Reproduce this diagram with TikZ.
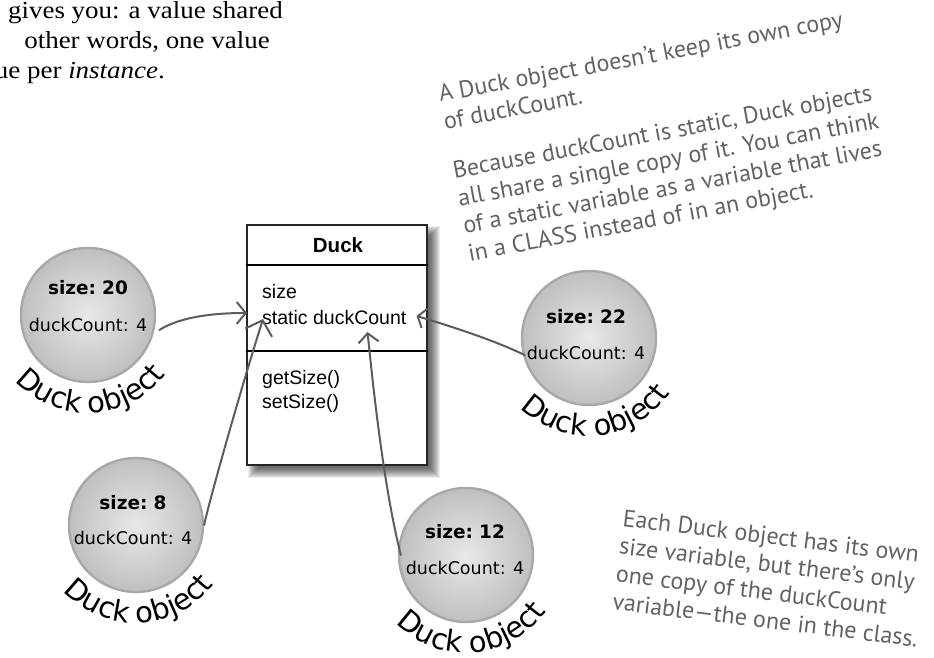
\documentclass[tikz,border=0pt]{standalone}
\usepackage{fontspec}
\setmainfont{Liberation Serif}
\newfontfamily\bookfont[FakeStretch=1.1]{Liberation Serif}
\newfontfamily\clsfont{Liberation Sans}
\newfontfamily\objfont{DejaVu Sans}
\newfontfamily\handfont{PT Sans}
\usetikzlibrary{arrows.meta,decorations.text,calc}
\pgfdeclarelayer{bg}
\pgfsetlayers{bg,main}
\definecolor{arrowgray}{HTML}{5C5C5C}
\definecolor{notegray}{HTML}{626262}
\newcommand{\labfont}{\objfont\fontsize{29}{29}\selectfont}
\begin{document}
\begin{tikzpicture}[x=1pt,y=1pt,
  book/.style={font=\bookfont\fontsize{24.5}{30}\selectfont, inner sep=0pt, anchor=base east},
  classbox/.style={draw=black!85, line width=1.2pt, fill=white, minimum width=180pt, minimum height=240pt, inner sep=0pt},
  sepline/.style={line width=2.2pt, black},
  field/.style={font=\clsfont\fontsize{19.5}{20}\selectfont, inner sep=0pt, anchor=west},
  duckobj/.style={circle, minimum size=134pt, inner sep=0pt, inner color=gray!18, outer color=gray!50, draw=gray!68, line width=2.4pt},
  sz/.style={font=\objfont\bfseries\fontsize{18.5}{18}\selectfont, inner sep=0pt},
  ct/.style={font=\objfont\fontsize{17.5}{17}\selectfont, inner sep=0pt},
  objlabel/.style={decorate, decoration={text along path, text align=center, text={|\labfont|Duck object}}},
  arr/.style={draw=arrowgray, line width=2pt, line cap=round},
  note/.style={font=\handfont\fontsize{24}{28}\selectfont, text=notegray, align=left, inner sep=0pt, anchor=north west}
]
\useasboundingbox (0,0) rectangle (934,658);
\clip (0,0) rectangle (934,658);

% book text, cropped at the left
\node[book] (p1) at (283,639) {gives you: a value shared};
\node[book] (p2) at (270,609) {other words, one value};
\node[book] (p3) at (165,579) {ue per \textit{instance}.};

% class box
\node[classbox] (duck) at (337,313) {};
\begin{pgfonlayer}{bg}
  \foreach \e in {5,4,...,-5}
    \fill[black, opacity=0.075]
      ([shift={({7-(\e)},{-7-(\e)})}]duck.south west) rectangle
      ([shift={({7+(\e)},{-7+(\e)})}]duck.north east);
\end{pgfonlayer}
\draw[sepline] ([yshift=-41pt]duck.north west) -- ([yshift=-41pt]duck.north east);
\draw[sepline] ([yshift=-127pt]duck.north west) -- ([yshift=-127pt]duck.north east);
\node[font=\clsfont\bfseries\fontsize{20.5}{21}\selectfont, inner sep=0pt] (dname) at (338,413) {Duck};
\node[field] (fsize) at (262,366) {size};
\node[field] (fcount) at (262,340) {static duckCount};
\node[field] (fget) at (262,279) {getSize()};
\node[field] (fset) at (262,255) {setSize()};

% duck objects
\node[duckobj] (o1) at (88,343) {};
\node[sz] (s1) at (88,370) {size:\,\,20};
\node[ct] (k1) at (88,333) {duckCount: 4};
\path[objlabel] ($(o1)+(200:98)$) arc[start angle=200, end angle=345, radius=98];

\node[duckobj] (o2) at (589,320) {};
\node[sz] (s2) at (586,341) {size:\,\,22};
\node[ct] (k2) at (586,305) {duckCount: 4};
\path[objlabel] ($(o2)+(203:98)$) arc[start angle=203, end angle=348, radius=98];

\node[duckobj] (o3) at (136,133) {};
\node[sz] (s3) at (133,155) {size:\,\,8};
\node[ct] (k3) at (133,120) {duckCount: 4};
\path[objlabel] ($(o3)+(200:98)$) arc[start angle=200, end angle=345, radius=98];

\node[duckobj] (o4) at (466,103) {};
\node[sz] (s4) at (465,126) {size:\,\,12};
\node[ct] (k4) at (465,90) {duckCount: 4};
\path[objlabel] ($(o4)+(202:98)$) arc[start angle=202, end angle=347, radius=98];

% connectors
\draw[arr, -{Straight Barb[length=9pt,width=22pt]}]
  ([xshift=12pt,yshift=-5pt]k1.east) .. controls +(22,14) and +(-30,0) .. ([xshift=-15pt,yshift=5pt]fcount.west);
\draw[arr, -{Straight Barb[length=13pt,width=28pt]}]
  (o3.east) .. controls +(2,12) and +(-28,-89) .. ([xshift=1pt,yshift=-1pt]fcount.west);
\draw[arr, -{Straight Barb[length=9pt,width=20pt]}]
  ([xshift=3pt]o4.west) .. controls +(-15,60) and +(8,-80) .. ([shift={(-39,-14)}]fcount.east);
\draw[arr, -{Straight Barb[length=7pt,width=20pt]}]
  ([xshift=-2pt,yshift=-2pt]k2.west) .. controls +(-25,12) and +(50,-15) .. ([shift={(10,2)}]fcount.east);

% handwritten notes
\node[note, rotate=10.5] (n1) at (437,573)
  {A Duck object doesn’t keep its own copy\\of duckCount.\\[22pt]Because duckCount is static, Duck objects\\all share a single copy of it. You can think\\of a static variable as a variable that lives\\in a CLASS instead of in an object.};
\node[note, rotate=-7] (n2) at (624,149)
  {Each Duck object has its own\\size variable, but there’s only\\one copy of the duckCount\\variable—the one in the class.};
\end{tikzpicture}
\end{document}
